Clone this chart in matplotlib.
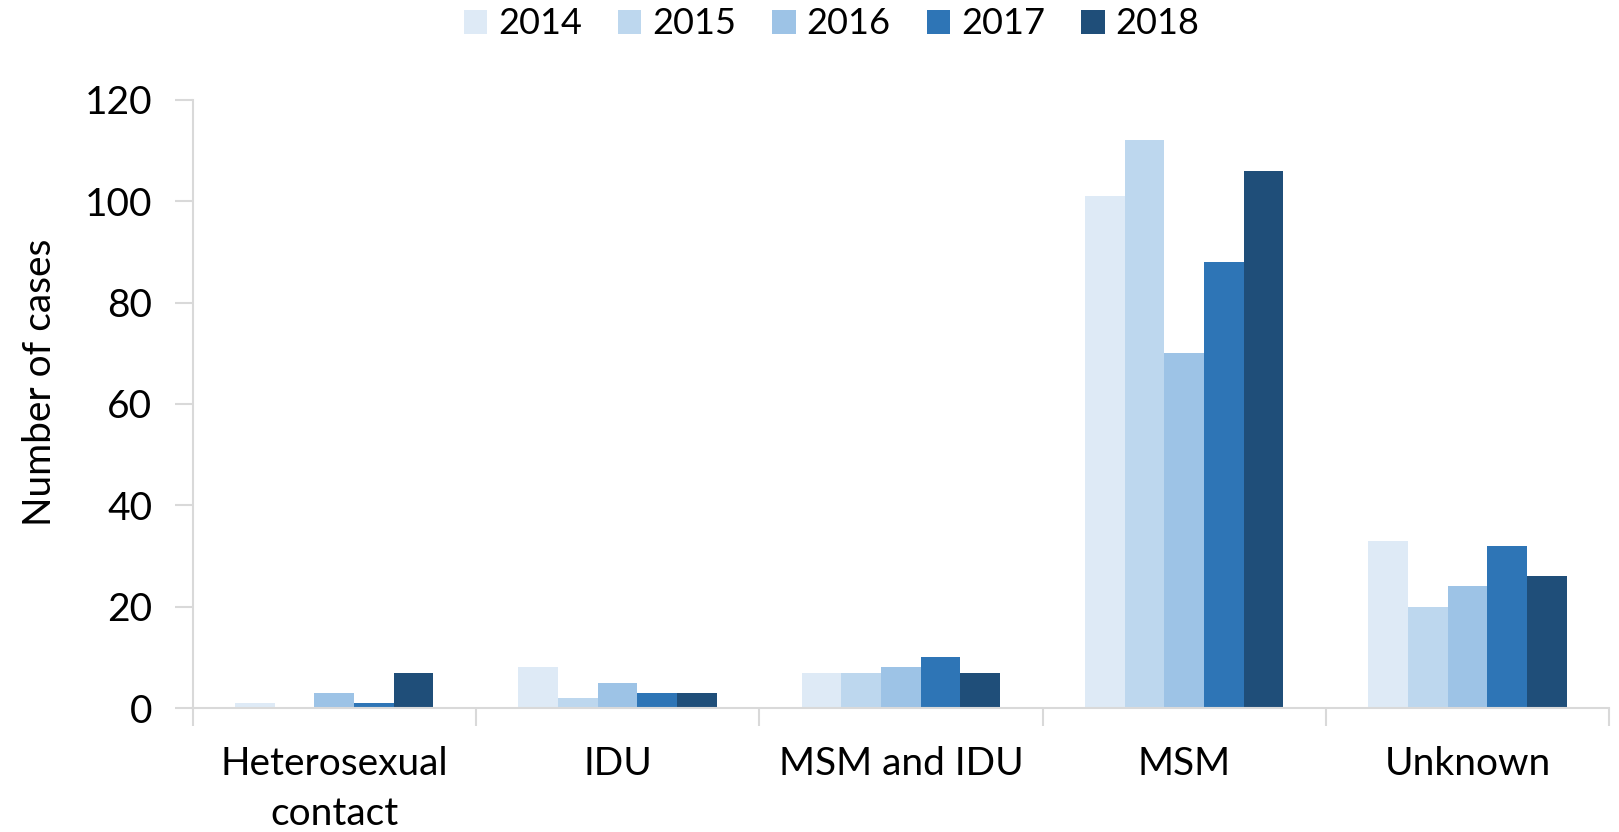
import matplotlib.pyplot as plt
import numpy as np

# Data
categories = ["Heterosexual\ncontact", "IDU", "MSM and IDU", "MSM", "Unknown"]
years = ["2014", "2015", "2016", "2017", "2018"]
cases_2014 = [1, 8, 7, 101, 33]
cases_2015 = [0, 2, 7, 112, 20]
cases_2016 = [3, 5, 8, 70, 24]
cases_2017 = [1, 3, 10, 88, 32]
cases_2018 = [7, 3, 7, 106, 26]
series = [cases_2014, cases_2015, cases_2016, cases_2017, cases_2018]
colors = ['#DEEAF6', '#BDD7EE', '#9DC3E6', '#2E75B6', '#1F4E79']

plt.rcParams['font.family'] = ['Lato', 'DejaVu Sans']
fig = plt.figure(figsize=(16.19, 8.32), dpi=100, facecolor='white')
ax = fig.add_axes([0.119, 0.149, 0.875, 0.731])

x = np.arange(len(categories))
width = 0.14
for i, (vals, col, yr) in enumerate(zip(series, colors, years)):
    ax.bar(x + (i - 2) * width, vals, width, color=col, label=yr, zorder=2)

ax.set_xlim(-0.5, len(categories) - 0.5)
ax.set_ylim(0, 120)
ax.set_yticks(range(0, 121, 20))
ax.set_xticks(x)
ax.set_xticklabels(categories, fontsize=28, linespacing=1.5)
ax.set_xticks(np.arange(-0.5, len(categories), 1), minor=True)
ax.tick_params(axis='x', which='major', length=0, pad=27)
ax.tick_params(axis='x', which='minor', length=13, width=1.5, color='#D9D9D9')
ax.tick_params(axis='y', length=13, width=1.5, color='#D9D9D9', labelsize=28, pad=16)
ax.set_ylabel("Number of cases", fontsize=28)
ax.yaxis.set_label_coords(-0.095, 0.535)

for s in ['top', 'right']:
    ax.spines[s].set_visible(False)
for s in ['left', 'bottom']:
    ax.spines[s].set_color('#D9D9D9')
    ax.spines[s].set_linewidth(1.5)

ax.legend(loc='center', bbox_to_anchor=(0.451, 1.125), ncol=5, frameon=False,
          fontsize=26, handlelength=0.65, handleheight=0.65, handletextpad=0.3,
          columnspacing=1.0)

fig.savefig('out.png', dpi=100, facecolor='white')
